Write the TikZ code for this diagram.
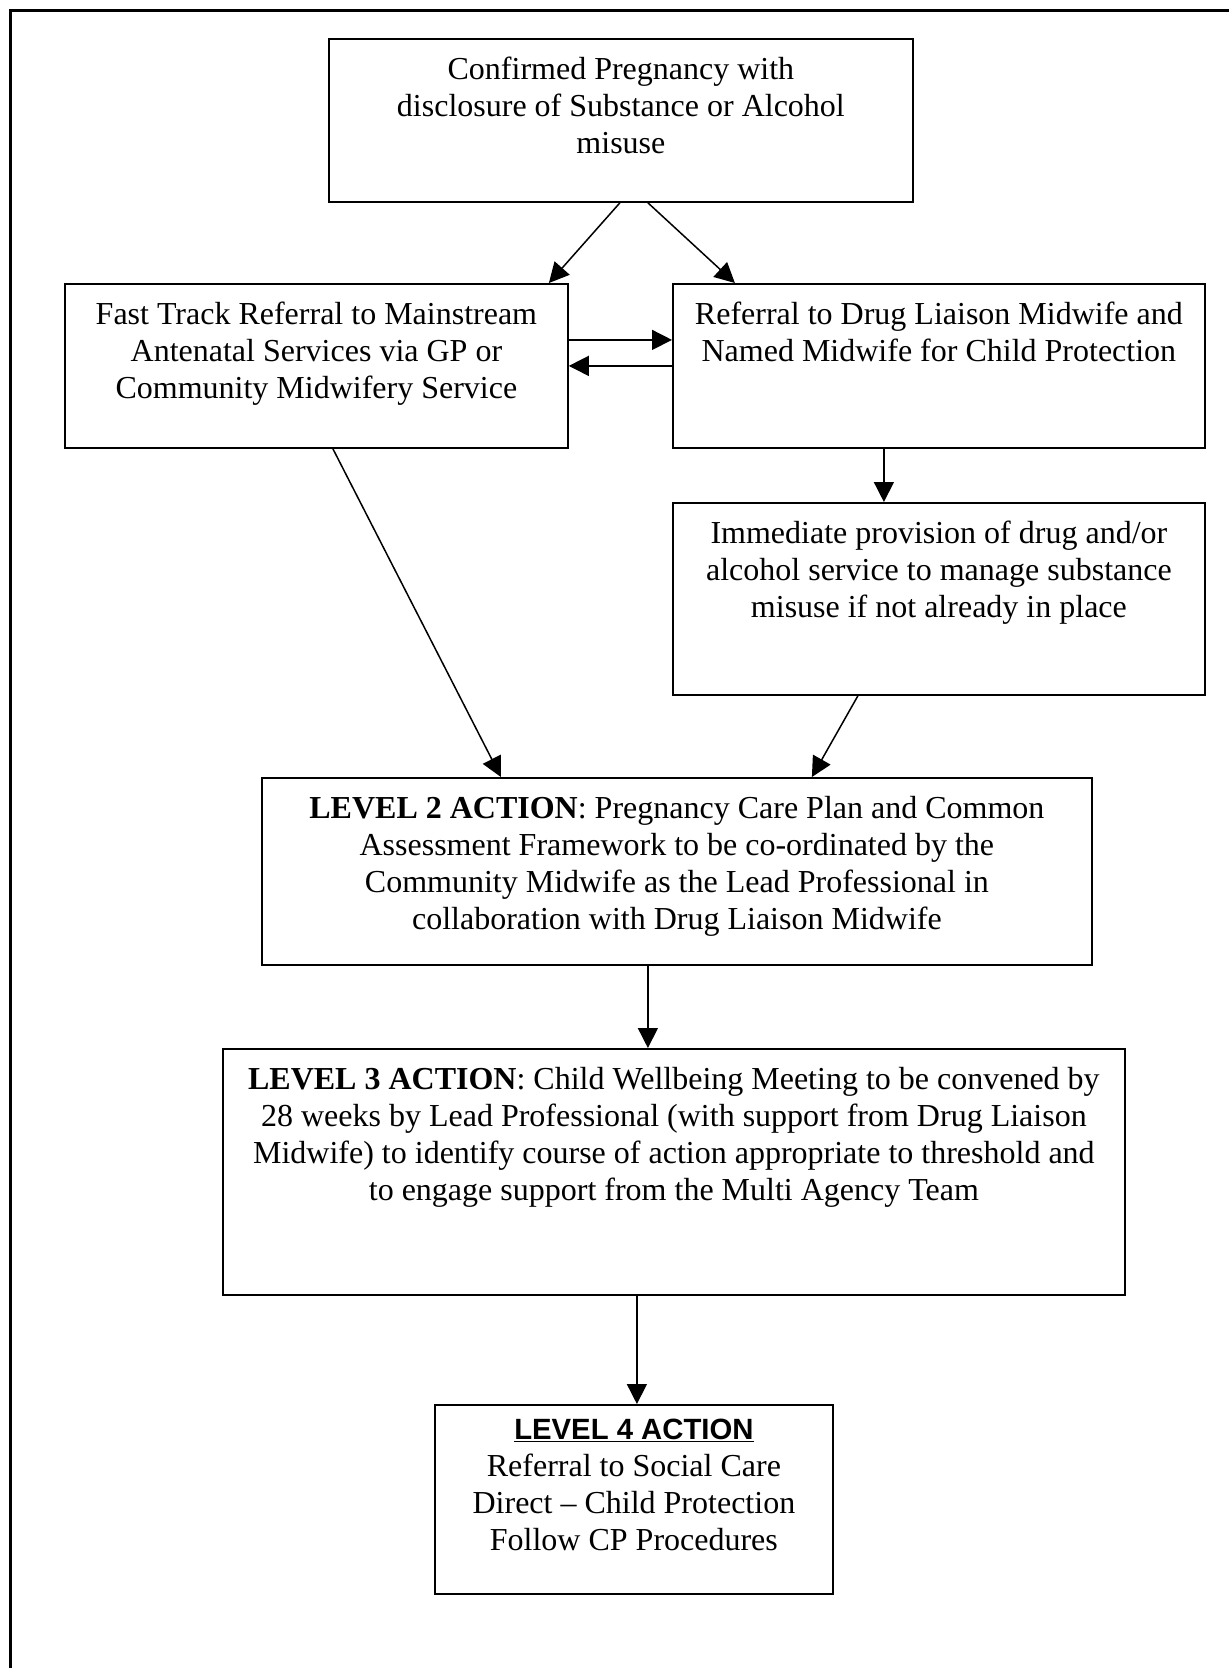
\documentclass[tikz,border=0pt]{standalone}
\usepackage{fontspec}
\setmainfont{Liberation Serif}
\newfontfamily\arialfont{Liberation Sans}
\usetikzlibrary{arrows.meta}
\begin{document}
\begin{tikzpicture}[x=1pt,y=-1pt,
  box/.style={draw, line width=1.8pt, rectangle, inner sep=0pt, anchor=north west},
  txt/.style={align=center, inner sep=0pt, anchor=north, font=\fontsize{32}{36.8}\selectfont},
  arr/.style={line width=1.5pt, -{Triangle[length=20pt,width=20pt]}}]
\useasboundingbox (0,0) rectangle (1229,1668);
\draw[line width=3pt] (10,1668) -- (10,10) -- (1229,10);

\node[box, minimum width=584pt, minimum height=163pt] (b1) at (328,38) {};
\node[box, minimum width=503pt, minimum height=164pt] (b2) at (64,283) {};
\node[box, minimum width=532pt, minimum height=164pt] (b3) at (672,283) {};
\node[box, minimum width=532pt, minimum height=192pt] (b4) at (672,502) {};
\node[box, minimum width=830pt, minimum height=187pt] (b5) at (261,777) {};
\node[box, minimum width=902pt, minimum height=246pt] (b6) at (222,1048) {};
\node[box, minimum width=398pt, minimum height=189pt] (b7) at (434,1404) {};

\node[txt] (t1) at ([yshift=-16pt]b1.north) {\strut Confirmed Pregnancy with\\disclosure of Substance or Alcohol\\misuse};
\node[txt] (t2) at ([yshift=-16pt]b2.north) {\strut Fast Track Referral to Mainstream\\Antenatal Services via GP or\\Community Midwifery Service};
\node[txt] (t3) at ([yshift=-16pt]b3.north) {\strut Referral to Drug Liaison Midwife and\\Named Midwife for Child Protection};
\node[txt] (t4) at ([yshift=-16pt]b4.north) {\strut Immediate provision of drug and/or\\alcohol service to manage substance\\misuse if not already in place};
\node[txt] (t5) at ([yshift=-16pt]b5.north) {\strut\textbf{LEVEL 2 ACTION}: Pregnancy Care Plan and Common\\Assessment Framework to be co-ordinated by the\\Community Midwife as the Lead Professional in\\collaboration with Drug Liaison Midwife};
\node[txt] (t6) at ([yshift=-16pt]b6.north) {\strut\textbf{LEVEL 3 ACTION}: Child Wellbeing Meeting to be convened by\\28 weeks by Lead Professional (with support from Drug Liaison\\Midwife) to identify course of action appropriate to threshold and\\to engage support from the Multi Agency Team};
\node[txt] (t7) at ([yshift=-10pt]b7.north) {\strut{\arialfont\fontsize{29.3}{36.8}\selectfont\bfseries\underline{LEVEL 4 ACTION}}\\Referral to Social Care\\Direct -- Child Protection\\Follow CP Procedures};

\draw[arr] ([xshift=-1pt]b1.south) -- ([xshift=232.5pt]b2.north);
\draw[arr] ([xshift=27pt]b1.south) -- ([xshift=-204pt]b3.north);
\draw[arr] ([yshift=26pt]b2.east) -- ([yshift=26pt]b3.west);
\draw[arr] (b3.west) -- (b2.east);
\draw[arr] ([xshift=-55pt]b3.south) -- ([xshift=-55pt]b4.north);
\draw[arr] ([xshift=16.5pt]b2.south) -- ([xshift=-176pt]b5.north);
\draw[arr] ([xshift=-81pt]b4.south) -- ([xshift=135pt]b5.north);
\draw[arr] ([xshift=-29pt]b5.south) -- ([xshift=-26pt]b6.north);
\draw[arr] ([xshift=-37pt]b6.south) -- ([xshift=3pt]b7.north);
\end{tikzpicture}
\end{document}
